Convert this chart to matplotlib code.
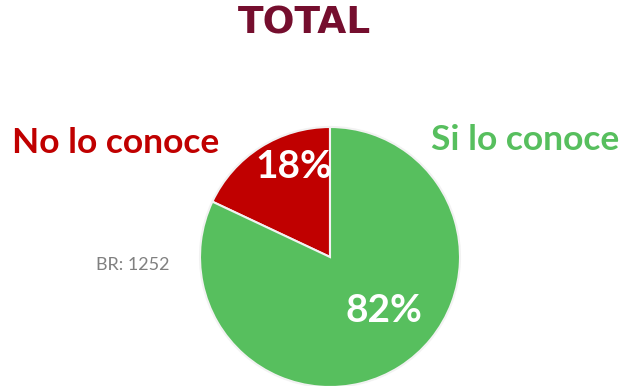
import matplotlib
matplotlib.use('Agg')
import matplotlib.pyplot as plt

# share of respondents
labels = ['No lo conoce', 'Si lo conoce']
values = [18, 82]
colors = ['#C00000', '#57BF5E']
base = 'BR: 1252'

plt.rcParams['font.family'] = ['Lato', 'DejaVu Sans']

fig = plt.figure(figsize=(6.24, 3.86), dpi=100)
ax = fig.add_axes([0, 0, 1, 1])

wedges, texts, autotexts = ax.pie(values, colors=colors, startangle=90, counterclock=True,
                                  center=(330, 129), radius=130, frame=True,
                                  autopct='%d%%', pctdistance=0.6,
                                  wedgeprops=dict(edgecolor='#F2F2F2', linewidth=1.5),
                                  textprops=dict(color='white', fontsize=28, fontweight='bold'))
ax.set_xlim(0, 624)
ax.set_ylim(0, 386)
ax.set_aspect('equal')
ax.axis('off')

autotexts[0].set_position((294, 386 - 166))
autotexts[1].set_position((384, 386 - 310))

ax.text(305, 386 - 23, 'TOTAL', ha='center', va='center', fontsize=27,
        fontweight='bold', color='#750E2E', family='DejaVu Sans')
ax.text(116, 386 - 143, labels[0], ha='center', va='center', fontsize=25.5,
        fontweight='bold', color=colors[0])
ax.text(525, 386 - 140, labels[1], ha='center', va='center', fontsize=25.5,
        fontweight='bold', color=colors[1])
ax.text(133, 386 - 265, base, ha='center', va='center', fontsize=13, color='#808080')

fig.savefig('out.png', dpi=100)
